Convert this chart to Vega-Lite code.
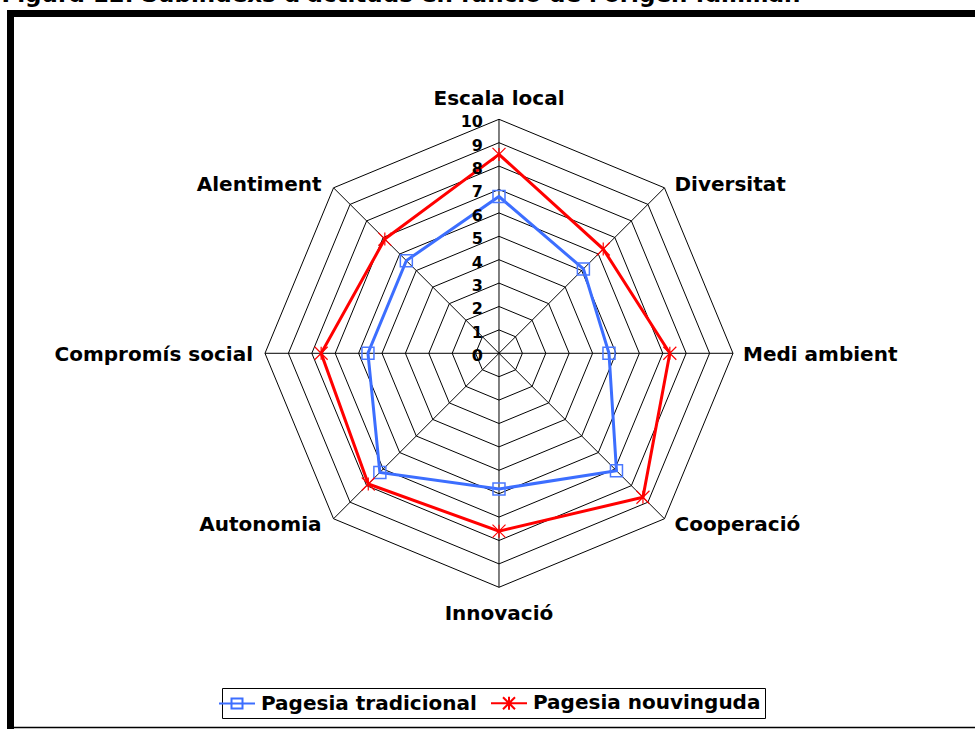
{
  "$schema": "https://vega.github.io/schema/vega-lite/v6.json",
  "autosize": "none",
  "padding": {"left": 10.5, "top": 13.5, "right": 0, "bottom": 0},
  "width": 964.5,
  "height": 715.5,
  "background": "white",
  "config": {
    "view": {"stroke": "black", "strokeWidth": 7, "strokeDash": [1680, 1680], "strokeDashOffset": 715.5},
    "font": "DejaVu Sans",
    "text": {"font": "DejaVu Sans", "fontWeight": "bold", "color": "black"}
  },
  "title": {
    "text": "Figura 12. Subíndexs d'actituds en funció de l'origen familiar.",
    "anchor": "start",
    "frame": "group",
    "orient": "top",
    "baseline": "alphabetic",
    "offset": 8.5,
    "dx": -9,
    "dy": 19.5,
    "font": "DejaVu Sans",
    "fontSize": 23,
    "fontWeight": "bold",
    "color": "black"
  },
  "datasets": {
    "axes": [
      {"axis": "Escala local", "idx": 0, "rings": [1, 2, 3, 4, 5, 6, 7, 8, 9, 10]},
      {"axis": "Diversitat", "idx": 1, "rings": [1, 2, 3, 4, 5, 6, 7, 8, 9, 10]},
      {"axis": "Medi ambient", "idx": 2, "rings": [1, 2, 3, 4, 5, 6, 7, 8, 9, 10]},
      {"axis": "Cooperació", "idx": 3, "rings": [1, 2, 3, 4, 5, 6, 7, 8, 9, 10]},
      {"axis": "Innovació", "idx": 4, "rings": [1, 2, 3, 4, 5, 6, 7, 8, 9, 10]},
      {"axis": "Autonomia", "idx": 5, "rings": [1, 2, 3, 4, 5, 6, 7, 8, 9, 10]},
      {"axis": "Compromís social", "idx": 6, "rings": [1, 2, 3, 4, 5, 6, 7, 8, 9, 10]},
      {"axis": "Alentiment", "idx": 7, "rings": [1, 2, 3, 4, 5, 6, 7, 8, 9, 10]}
    ],
    "levels": [
      {"level": 0}, {"level": 1}, {"level": 2}, {"level": 3}, {"level": 4}, {"level": 5},
      {"level": 6}, {"level": 7}, {"level": 8}, {"level": 9}, {"level": 10}
    ],
    "frame": [{"edge": "bottom"}],
    "scores": [
      {"axis": "Escala local", "serie": "Pagesia tradicional", "value": 6.7},
      {"axis": "Diversitat", "serie": "Pagesia tradicional", "value": 5.1},
      {"axis": "Medi ambient", "serie": "Pagesia tradicional", "value": 4.7},
      {"axis": "Cooperació", "serie": "Pagesia tradicional", "value": 7.1},
      {"axis": "Innovació", "serie": "Pagesia tradicional", "value": 5.8},
      {"axis": "Autonomia", "serie": "Pagesia tradicional", "value": 7.2},
      {"axis": "Compromís social", "serie": "Pagesia tradicional", "value": 5.6},
      {"axis": "Alentiment", "serie": "Pagesia tradicional", "value": 5.6},
      {"axis": "Escala local", "serie": "Pagesia nouvinguda", "value": 8.5},
      {"axis": "Diversitat", "serie": "Pagesia nouvinguda", "value": 6.3},
      {"axis": "Medi ambient", "serie": "Pagesia nouvinguda", "value": 7.3},
      {"axis": "Cooperació", "serie": "Pagesia nouvinguda", "value": 8.7},
      {"axis": "Innovació", "serie": "Pagesia nouvinguda", "value": 7.6},
      {"axis": "Autonomia", "serie": "Pagesia nouvinguda", "value": 7.9},
      {"axis": "Compromís social", "serie": "Pagesia nouvinguda", "value": 7.6},
      {"axis": "Alentiment", "serie": "Pagesia nouvinguda", "value": 6.9}
    ]
  },
  "layer": [
    {
      "data": {"name": "axes"},
      "transform": [
        {"flatten": ["rings"]},
        {"calculate": "datum.idx * PI / 4", "as": "a"},
        {"calculate": "datum.rings * sin(datum.a)", "as": "px"},
        {"calculate": "datum.rings * cos(datum.a)", "as": "py"}
      ],
      "mark": {"type": "line", "interpolate": "linear-closed", "color": "black", "strokeWidth": 1},
      "encoding": {
        "x": {"field": "px", "type": "quantitative", "scale": {"domain": [-20.876, 20.342], "nice": false, "zero": false}, "axis": null},
        "y": {"field": "py", "type": "quantitative", "scale": {"domain": [-16.056, 14.521], "nice": false, "zero": false}, "axis": null},
        "detail": {"field": "rings", "type": "nominal"},
        "order": {"field": "idx", "type": "quantitative"}
      }
    },
    {
      "data": {"name": "axes"},
      "transform": [
        {"calculate": "datum.idx * PI / 4", "as": "a"},
        {"calculate": "10 * sin(datum.a)", "as": "sx"},
        {"calculate": "10 * cos(datum.a)", "as": "sy"},
        {"calculate": "0", "as": "cx"}
      ],
      "mark": {"type": "rule", "color": "black", "strokeWidth": 1},
      "encoding": {
        "x": {"field": "cx", "type": "quantitative"},
        "y": {"field": "cx", "type": "quantitative"},
        "x2": {"field": "sx"},
        "y2": {"field": "sy"}
      }
    },
    {
      "data": {"name": "scores"},
      "transform": [
        {"lookup": "axis", "from": {"data": {"name": "axes"}, "key": "axis", "fields": ["idx"]}},
        {"calculate": "datum.idx * PI / 4", "as": "a"},
        {"calculate": "datum.value * sin(datum.a)", "as": "px"},
        {"calculate": "datum.value * cos(datum.a)", "as": "py"}
      ],
      "mark": {"type": "line", "interpolate": "linear-closed", "strokeWidth": 3},
      "encoding": {
        "x": {"field": "px", "type": "quantitative"},
        "y": {"field": "py", "type": "quantitative"},
        "order": {"field": "idx", "type": "quantitative"},
        "color": {
          "field": "serie",
          "type": "nominal",
          "sort": ["Pagesia tradicional", "Pagesia nouvinguda"],
          "scale": {"domain": ["Pagesia tradicional", "Pagesia nouvinguda"], "range": ["#3C6EFF", "#FF0000"]},
          "legend": {
            "orient": "none",
            "legendX": 211.5,
            "legendY": 674.5,
            "direction": "horizontal",
            "title": null,
            "strokeColor": "black",
            "padding": 4,
            "labelFont": "DejaVu Sans",
            "labelFontSize": 20,
            "labelFontWeight": "bold",
            "labelColor": "black",
            "labelLimit": 400,
            "symbolSize": 400,
            "symbolStrokeWidth": 2,
            "labelOffset": 13,
            "columnPadding": 10,
            "symbolType": "M-1.8,0H1.8",
            "encode": {
              "symbols": {
                "update": {
                  "shape": {"signal": "datum.value === 'Pagesia tradicional' ? 'M-1.8,0H1.8M-0.55,-0.5H0.55V0.5H-0.55Z' : 'M-1.8,0H1.8M-0.6,-0.6L0.6,0.6M-0.6,0.6L0.6,-0.6M0,-0.65L0,0.65'"},
                  "fill": {"value": "transparent"}
                }
              }
            }
          }
        }
      }
    },
    {
      "data": {"name": "scores"},
      "transform": [
        {"filter": "datum.serie === 'Pagesia tradicional'"},
        {"lookup": "axis", "from": {"data": {"name": "axes"}, "key": "axis", "fields": ["idx"]}},
        {"calculate": "datum.idx * PI / 4", "as": "a"},
        {"calculate": "datum.value * sin(datum.a)", "as": "px"},
        {"calculate": "datum.value * cos(datum.a)", "as": "py"}
      ],
      "mark": {"type": "point", "shape": "square", "size": 144, "filled": false, "color": "#4A78FF", "strokeWidth": 1.5, "opacity": 1},
      "encoding": {
        "x": {"field": "px", "type": "quantitative"},
        "y": {"field": "py", "type": "quantitative"}
      }
    },
    {
      "data": {"name": "scores"},
      "transform": [
        {"filter": "datum.serie === 'Pagesia nouvinguda'"},
        {"lookup": "axis", "from": {"data": {"name": "axes"}, "key": "axis", "fields": ["idx"]}},
        {"calculate": "datum.idx * PI / 4", "as": "a"},
        {"calculate": "datum.value * sin(datum.a)", "as": "px"},
        {"calculate": "datum.value * cos(datum.a)", "as": "py"}
      ],
      "mark": {"type": "point", "shape": "M-1,-1L1,1M-1,1L1,-1M0,-1L0,1", "size": 169, "filled": false, "color": "#FF0000", "strokeWidth": 1.2, "opacity": 1},
      "encoding": {
        "x": {"field": "px", "type": "quantitative"},
        "y": {"field": "py", "type": "quantitative"}
      }
    },
    {
      "data": {"name": "levels"},
      "transform": [{"calculate": "0", "as": "cx"}],
      "mark": {"type": "text", "align": "right", "baseline": "middle", "dx": -16, "dy": 3, "fontSize": 16, "fontWeight": "bold"},
      "encoding": {
        "x": {"field": "cx", "type": "quantitative"},
        "y": {"field": "level", "type": "quantitative"},
        "text": {"field": "level", "type": "quantitative"}
      }
    },
    {
      "data": {"name": "axes"},
      "transform": [
        {"calculate": "datum.idx * PI / 4", "as": "a"},
        {"calculate": "10 * sin(datum.a)", "as": "lx"},
        {"calculate": "10.27 * cos(datum.a) - 0.085", "as": "ly"},
        {"filter": "datum.idx === 0"}
      ],
      "mark": {"type": "text", "align": "center", "baseline": "middle", "dy": -16, "fontSize": 20, "fontWeight": "bold"},
      "encoding": {
        "x": {"field": "lx", "type": "quantitative"},
        "y": {"field": "ly", "type": "quantitative"},
        "text": {"field": "axis"}
      }
    },
    {
      "data": {"name": "axes"},
      "transform": [
        {"calculate": "datum.idx * PI / 4", "as": "a"},
        {"calculate": "10 * sin(datum.a)", "as": "lx"},
        {"calculate": "10.27 * cos(datum.a) - 0.085", "as": "ly"},
        {"filter": "datum.idx === 4"}
      ],
      "mark": {"type": "text", "align": "center", "baseline": "middle", "dy": 18, "fontSize": 20, "fontWeight": "bold"},
      "encoding": {
        "x": {"field": "lx", "type": "quantitative"},
        "y": {"field": "ly", "type": "quantitative"},
        "text": {"field": "axis"}
      }
    },
    {
      "data": {"name": "axes"},
      "transform": [
        {"calculate": "datum.idx * PI / 4", "as": "a"},
        {"calculate": "10 * sin(datum.a)", "as": "lx"},
        {"calculate": "10.27 * cos(datum.a) - 0.085", "as": "ly"},
        {"filter": "datum.idx >= 1 && datum.idx <= 3"}
      ],
      "mark": {"type": "text", "align": "left", "baseline": "middle", "dx": 10, "fontSize": 20, "fontWeight": "bold"},
      "encoding": {
        "x": {"field": "lx", "type": "quantitative"},
        "y": {"field": "ly", "type": "quantitative"},
        "text": {"field": "axis"}
      }
    },
    {
      "data": {"name": "axes"},
      "transform": [
        {"calculate": "datum.idx * PI / 4", "as": "a"},
        {"calculate": "10 * sin(datum.a)", "as": "lx"},
        {"calculate": "10.27 * cos(datum.a) - 0.085", "as": "ly"},
        {"filter": "datum.idx >= 5"}
      ],
      "mark": {"type": "text", "align": "right", "baseline": "middle", "dx": -12, "fontSize": 20, "fontWeight": "bold"},
      "encoding": {
        "x": {"field": "lx", "type": "quantitative"},
        "y": {"field": "ly", "type": "quantitative"},
        "text": {"field": "axis"}
      }
    },
    {
      "data": {"name": "frame"},
      "mark": {"type": "rule", "color": "black", "strokeWidth": 1.5},
      "encoding": {
        "y": {"datum": -15.99, "type": "quantitative"}
      }
    }
  ]
}
